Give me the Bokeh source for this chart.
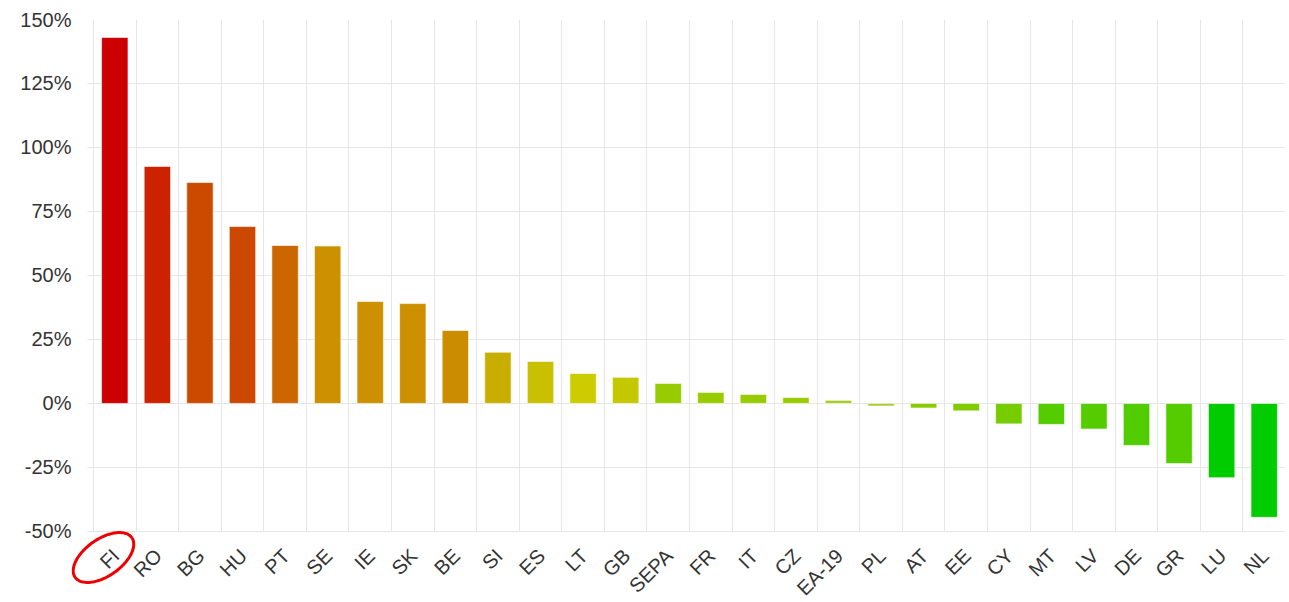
import math
from bokeh.plotting import figure
from bokeh.models import ColumnDataSource, FixedTicker, PolyAnnotation
from bokeh.core.properties import value
from bokeh.embed import file_html
from bokeh.resources import INLINE

countries = ["FI", "RO", "BG", "HU", "PT", "SE", "IE", "SK", "BE", "SI", "ES", "LT", "GB",
             "SEPA", "FR", "IT", "CZ", "EA-19", "PL", "AT", "EE", "CY", "MT", "LV", "DE",
             "GR", "LU", "NL"]
change_pct = [143.0, 92.6, 86.3, 69.1, 61.7, 61.5, 39.8, 39.0, 28.5, 20.0, 16.4, 11.7, 10.2,
              7.8, 4.3, 3.5, 2.3, 1.2, -1.0, -1.8, -2.9, -8.0, -8.2, -10.0, -16.4,
              -23.5, -29.0, -44.5]
bar_colors = ["#CC0000", "#CC2200", "#CC4A00", "#CC4800", "#CC6600", "#CC9000", "#CC9000",
              "#CC9000", "#CC8C00", "#C8AE00", "#C8C000", "#CCCC00", "#C4C800", "#99CC00",
              "#99CC00", "#99CC00", "#99CC00", "#A0CC22", "#A6CC33", "#88CC00", "#80CC00",
              "#77CC00", "#55CC00", "#55CC00", "#50CC00", "#55CC00", "#00CC00", "#00CC00"]
y_ticks = [-50, -25, 0, 25, 50, 75, 100, 125, 150]

y_min, y_max = -50, 150
n = len(countries)
centers = [i + 0.5 for i in range(n)]
src = ColumnDataSource(dict(x=centers, top=change_pct, color=bar_colors, name=countries))
lab_src = ColumnDataSource(dict(x=centers, y=[y_min] * n, text=countries))

GRID = "#e6e6e6"
H = 600
# the frame reaches a little left of the first category and below the value range so that the
# category labels and the red ring around "FI" can be drawn inside it
p = figure(width=1285, height=H, output_backend="svg", toolbar_location=None,
           x_range=(-0.517, n), y_range=(-77, y_max),
           min_border_left=71, min_border_right=0, min_border_top=19, min_border_bottom=0)
p.outline_line_color = None
p.background_fill_color = "white"

p.vbar(x="x", top="top", bottom=0, width=0.62, fill_color="color",
       line_color="white", line_width=1, line_alpha=0.6, source=src)

# y axis: labels only, the grid draws the short tick marks
p.yaxis.ticker = FixedTicker(ticks=y_ticks)
p.yaxis.major_label_overrides = {t: f"{t}%" for t in y_ticks}
p.yaxis.major_label_text_font = "Liberation Sans"
p.yaxis.major_label_text_font_size = "20px"
p.yaxis.major_label_text_color = "#333333"
p.yaxis.axis_line_color = None
p.yaxis.major_tick_line_color = None
p.yaxis.major_tick_out = 0
p.yaxis.major_tick_in = 0
p.yaxis.minor_tick_line_color = None
p.yaxis.major_label_standoff = 0

p.xaxis.visible = False

xg = p.xgrid[0]
yg = p.ygrid[0]
xg.ticker = FixedTicker(ticks=list(range(n + 1)))
xg.grid_line_color = GRID
yg.ticker = FixedTicker(ticks=y_ticks)
yg.grid_line_color = GRID
if "cross_bounds" in xg.properties():
    xg.cross_bounds = (y_min, y_max)
    yg.cross_bounds = (-0.141, n)
else:
    xg.visible = False
    yg.visible = False
    bnd = list(range(n + 1))
    p.segment(x0=bnd, y0=[y_min] * len(bnd), x1=bnd, y1=[y_max] * len(bnd),
              line_color=GRID, line_width=1)
    p.segment(x0=[-0.141] * len(y_ticks), y0=y_ticks, x1=[n] * len(y_ticks), y1=y_ticks,
              line_color=GRID, line_width=1)

# category labels, rotated 45 degrees, ending under each bar
p.text(x="x", y="y", text="text", source=lab_src, angle=math.pi / 4,
       x_offset=1, y_offset=21, text_align="right", text_baseline="middle",
       text_font=value("Liberation Sans"), text_font_size="20px", text_color="#333333")

# red hand-drawn ring around the first label (canvas pixel outline)
def ring_pts(cx, cy, a=34.6, b=18.5, th=math.radians(35), k=90):
    xs, ys = [], []
    for j in range(k):
        t = 2 * math.pi * j / k
        ex, ey = a * math.cos(t), b * math.sin(t)
        xs.append(cx + ex * math.cos(th) + ey * math.sin(th))
        ys.append(cy - ex * math.sin(th) + ey * math.cos(th))
    return xs, ys

rx, ry = ring_pts(103.0, 557.0)
p.add_layout(PolyAnnotation(xs=rx, ys=ry, xs_units="canvas", ys_units="canvas",
                            fill_alpha=0, line_color="#EE0000", line_alpha=1.0, line_width=3))

open("out.html", "w").write(file_html(p, INLINE))
